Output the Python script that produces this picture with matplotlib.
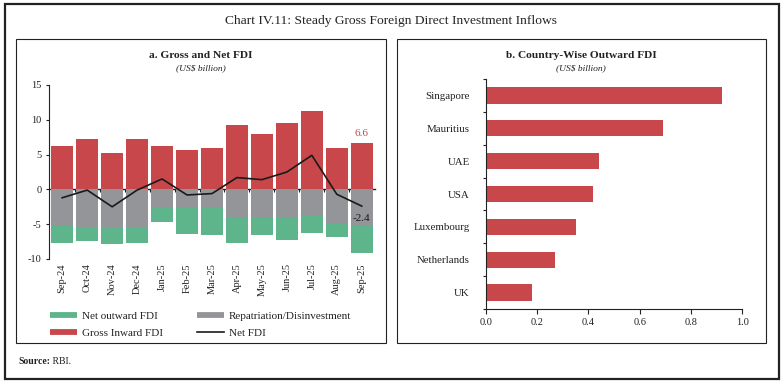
import matplotlib
matplotlib.use("Agg")
import matplotlib.pyplot as plt
from matplotlib.lines import Line2D
from matplotlib.patches import Rectangle
import numpy as np

plt.rcParams['font.family'] = ['Liberation Serif', 'DejaVu Serif']
plt.rcParams['axes.unicode_minus'] = False

# ---- data ----
months = ['Sep-24', 'Oct-24', 'Nov-24', 'Dec-24', 'Jan-25', 'Feb-25', 'Mar-25',
          'Apr-25', 'May-25', 'Jun-25', 'Jul-25', 'Aug-25', 'Sep-25']
gross_inward = [6.3, 7.2, 5.3, 7.3, 6.2, 5.6, 5.9, 9.3, 7.9, 9.6, 11.2, 6.0, 6.6]
repatriation = [5.3, 5.4, 5.4, 5.4, 2.5, 2.6, 2.6, 4.1, 4.1, 4.1, 3.8, 5.0, 5.3]
net_outward = [2.4, 2.0, 2.4, 2.3, 2.2, 3.8, 4.0, 3.6, 2.4, 3.2, 2.4, 1.8, 3.8]
net_fdi = [-1.2, -0.1, -2.5, -0.1, 1.5, -0.8, -0.6, 1.7, 1.4, 2.5, 4.9, -0.7, -2.4]

countries = ['Singapore', 'Mauritius', 'UAE', 'USA', 'Luxembourg', 'Netherlands', 'UK']
outward_fdi = [0.92, 0.69, 0.44, 0.42, 0.35, 0.27, 0.18]

RED = '#C8474A'
GRAY = '#939598'
GREEN = '#5EB48B'
INK = '#222222'

W, H = 783, 382
fig = plt.figure(figsize=(W / 100, H / 100), dpi=100)


def fx(px):
    return px / W


def fy(py):
    return 1 - py / H


# ---- frames ----
fig.patches.append(Rectangle((fx(4.5), fy(379)), fx(779) - fx(4.5), fy(3.5) - fy(379),
                             transform=fig.transFigure, fill=False, lw=1.6, ec=INK))
fig.patches.append(Rectangle((fx(16), fy(343)), fx(386) - fx(16), fy(39) - fy(343),
                             transform=fig.transFigure, fill=False, lw=0.8, ec=INK))
fig.patches.append(Rectangle((fx(397), fy(343)), fx(766) - fx(397), fy(39) - fy(343),
                             transform=fig.transFigure, fill=False, lw=0.8, ec=INK))

fig.text(fx(391), fy(21), 'Chart IV.11: Steady Gross Foreign Direct Investment Inflows',
         ha='center', va='center', fontsize=9.7, color=INK)
fig.text(fx(201), fy(55), 'a. Gross and Net FDI', ha='center', va='center',
         fontsize=8.2, fontweight='bold', color=INK)
fig.text(fx(201), fy(68), '(US$ billion)', ha='center', va='center',
         fontsize=6.8, style='italic', color=INK)
fig.text(fx(581), fy(55), 'b. Country-Wise Outward FDI', ha='center', va='center',
         fontsize=8.2, fontweight='bold', color=INK)
fig.text(fx(581), fy(68), '(US$ billion)', ha='center', va='center',
         fontsize=6.8, style='italic', color=INK)

src = fig.text(fx(18), fy(361), 'Source:', ha='left', va='center', fontsize=7,
               fontweight='bold', color=INK)

# ---- left chart ----
ax = fig.add_axes([fx(49), fy(259), fx(375) - fx(49), fy(85) - fy(259)])
x = np.arange(len(months))
bw = 0.88
neg_rep = [-v for v in repatriation]
neg_out = [-v for v in net_outward]
ax.bar(x, gross_inward, width=bw, color=RED, zorder=2)
ax.bar(x, neg_rep, width=bw, color=GRAY, zorder=2)
ax.bar(x, neg_out, width=bw, bottom=neg_rep, color=GREEN, zorder=2)
ax.plot(x, net_fdi, color='#1a1a1a', lw=1.2, zorder=4)

ax.set_xlim(-0.53, 12.53)
ax.set_ylim(-10, 15)
ax.set_yticks([-10, -5, 0, 5, 10, 15])
ax.tick_params(axis='y', direction='out', length=2.5, width=0.8, labelsize=7.5,
               pad=3, colors=INK)
ax.set_xticks(x)
ax.set_xticklabels(months, rotation=90, fontsize=7.5, color=INK)
ax.tick_params(axis='x', length=0, pad=3)
for s in ['top', 'right', 'bottom']:
    ax.spines[s].set_visible(False)
ax.spines['left'].set_linewidth(0.8)
ax.spines['left'].set_color(INK)

sec = ax.secondary_xaxis(10 / 25)
sec.set_xticks(np.arange(0.5, 12, 1.0))
sec.tick_params(axis='x', direction='out', length=2.5, width=0.8, labelbottom=False,
                colors=INK)
sec.spines['bottom'].set_linewidth(1.0)
sec.spines['bottom'].set_color(INK)

last = len(months) - 1
ax.annotate(f'{gross_inward[last]:.1f}', xy=(x[last], gross_inward[last]),
            xytext=(0, 4), textcoords='offset points', ha='center', va='bottom',
            fontsize=8, color=RED)
ax.annotate(f'{net_fdi[last]:.1f}', xy=(x[last], net_fdi[last]),
            xytext=(0, -6), textcoords='offset points', ha='center', va='top',
            fontsize=8, color='#1a1a1a', zorder=5)

ax.annotate(' RBI.', xy=(1, 0.5), xycoords=src, ha='left', va='center',
            fontsize=7, color=INK, annotation_clip=False)

handles = [Line2D([], [], color=GREEN, lw=4.2, solid_capstyle='butt'),
           Line2D([], [], color=RED, lw=4.2, solid_capstyle='butt'),
           Line2D([], [], color=GRAY, lw=4.2, solid_capstyle='butt'),
           Line2D([], [], color='#1a1a1a', lw=1.2)]
labels = ['Net outward FDI', 'Gross Inward FDI', 'Repatriation/Disinvestment', 'Net FDI']
fig.legend(handles, labels, ncol=2, loc='upper left',
           bbox_to_anchor=(fx(50), fy(311.5)), frameon=False, fontsize=8,
           handlelength=2.45, handletextpad=0.45, columnspacing=3.0,
           labelspacing=0.6, borderpad=0, borderaxespad=0,
           labelcolor=INK)

# ---- right chart ----
ax2 = fig.add_axes([fx(485.7), fy(309), fx(742.3) - fx(485.7), fy(79) - fy(309)])
y = np.arange(len(countries))
ax2.barh(y, outward_fdi, height=0.5, color=RED, zorder=2)
ax2.set_ylim(len(countries) - 0.5, -0.5)
ax2.set_xlim(0, 1.0)
ax2.set_xticks([0.0, 0.2, 0.4, 0.6, 0.8, 1.0])
ax2.set_xticklabels(['0.0', '0.2', '0.4', '0.6', '0.8', '1.0'])
ax2.tick_params(axis='x', direction='out', length=3.5, width=0.8, labelsize=7.5,
                pad=3, colors=INK)
ax2.set_yticks(y)
ax2.set_yticklabels(countries)
ax2.set_yticks(np.arange(-0.5, len(countries), 1.0), minor=True)
ax2.tick_params(axis='y', which='major', length=0, pad=11.5, labelsize=7.8,
                colors=INK)
ax2.tick_params(axis='y', which='minor', direction='out', length=2.5, width=0.8,
                colors=INK)
for s in ['top', 'right']:
    ax2.spines[s].set_visible(False)
for s in ['left', 'bottom']:
    ax2.spines[s].set_linewidth(0.8)
    ax2.spines[s].set_color(INK)

fig.savefig('out.png', dpi=100)
